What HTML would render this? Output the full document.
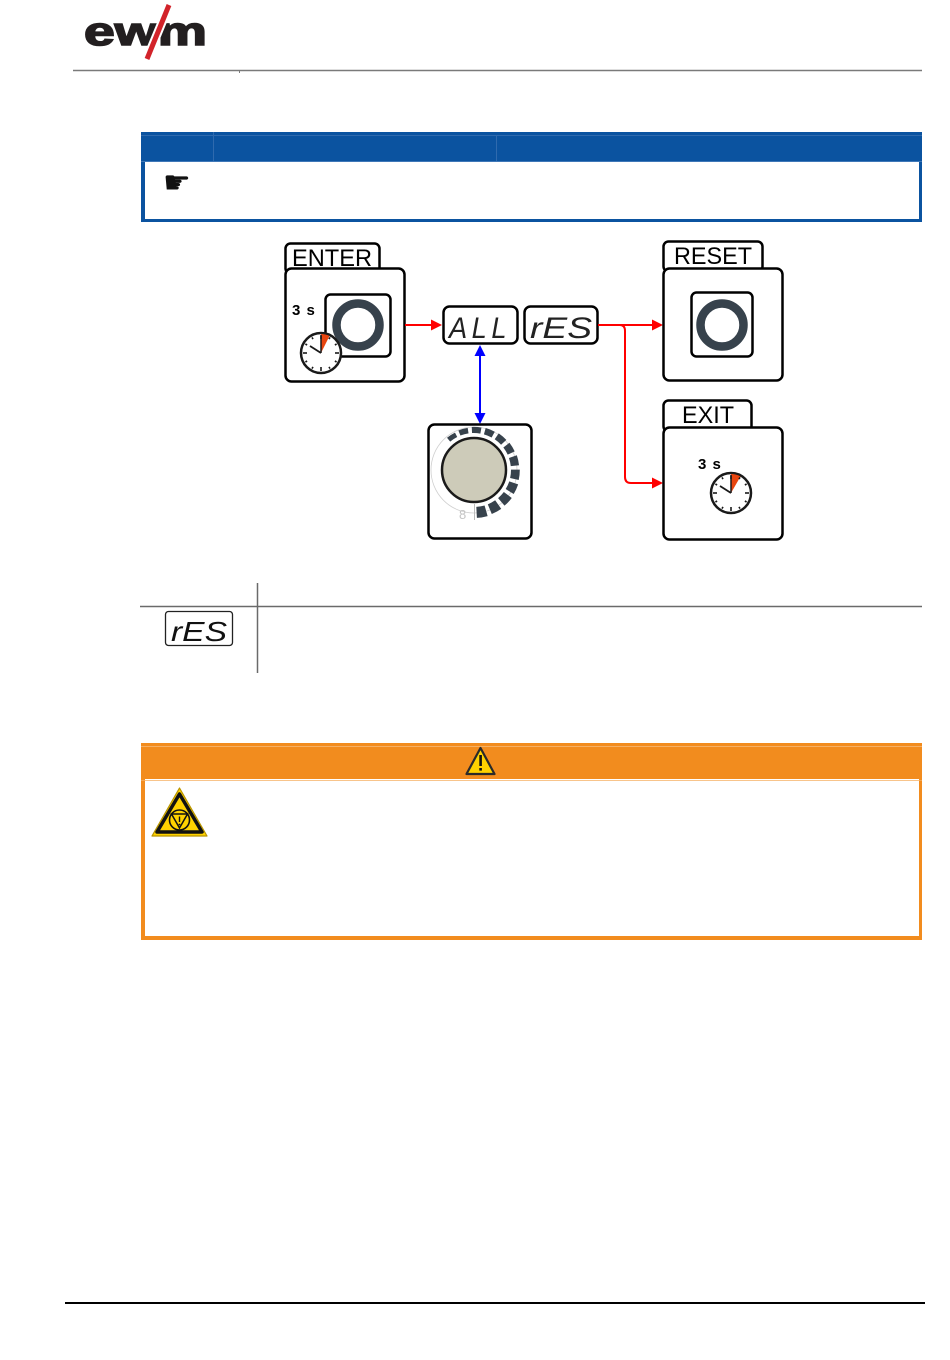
<!DOCTYPE html>
<html>
<head>
<meta charset="utf-8">
<style>
html,body{margin:0;padding:0;background:#fff;}
body{width:950px;height:1360px;overflow:hidden;position:relative;}
svg{position:absolute;left:0;top:0;}
</style>
</head>
<body>
<svg width="950" height="1360" viewBox="0 0 950 1360" xmlns="http://www.w3.org/2000/svg">
  <!-- Logo -->
  <text x="84" y="45" font-family="Liberation Sans, sans-serif" font-weight="bold" font-size="40" fill="#231f20" stroke="#231f20" stroke-width="1.6" textLength="123" lengthAdjust="spacingAndGlyphs">ewm</text>
  <line x1="170" y1="3" x2="146" y2="61" stroke="#fff" stroke-width="9"/>
  <line x1="169" y1="5" x2="147" y2="59" stroke="#d2232a" stroke-width="5"/>
  <!-- header line -->
  <line x1="73" y1="70.5" x2="922" y2="70.5" stroke="#7a7a7a" stroke-width="1.5"/>
  <line x1="239.5" y1="70" x2="239.5" y2="73" stroke="#7a7a7a" stroke-width="1"/>

  <!-- Blue note box -->
  <rect x="141" y="132" width="781" height="90" fill="#0b53a0"/>
  <rect x="145" y="162" width="774" height="57" fill="#fff"/>
  <line x1="141" y1="135.5" x2="922" y2="135.5" stroke="#2f6aae" stroke-width="1"/>
  <line x1="213.5" y1="132" x2="213.5" y2="162" stroke="#2f6aae" stroke-width="1"/>
  <line x1="496.5" y1="135" x2="496.5" y2="162" stroke="#2f6aae" stroke-width="1"/>
  <line x1="141" y1="161.5" x2="922" y2="161.5" stroke="#3f78b8" stroke-width="1"/>
  <text x="163" y="193" font-family="DejaVu Sans, sans-serif" font-size="31" fill="#111">☛</text>

  <!-- ENTER block -->
  <rect x="285.5" y="243.5" width="94" height="30" rx="5" fill="#fff" stroke="#000" stroke-width="2.5"/>
  <text x="292" y="266" font-family="Liberation Sans, sans-serif" font-size="24" fill="#000" textLength="80" lengthAdjust="spacingAndGlyphs">ENTER</text>
  <rect x="285.5" y="268.5" width="119" height="113" rx="6" fill="#fff" stroke="#000" stroke-width="2.5"/>
  <rect x="325.5" y="294.5" width="65" height="62" rx="5" fill="#fff" stroke="#000" stroke-width="2.5"/>
  <circle cx="358" cy="325" r="21.5" fill="none" stroke="#37424c" stroke-width="8.5"/>
  <text x="292" y="315" font-family="Liberation Sans, sans-serif" font-weight="bold" font-size="15" letter-spacing="1" fill="#000">3 s</text>
  <!-- clock ENTER -->
  <circle cx="321" cy="353" r="20" fill="#fff" stroke="#1a1a1a" stroke-width="2.5"/>
  <path d="M321 353 L321 334 A19 19 0 0 1 329.5 336 Z" fill="#e8450f"/>
  <g stroke="#1a1a1a" stroke-width="1.6">
    <line x1="321" y1="335" x2="321" y2="339"/>
    <line x1="321" y1="367" x2="321" y2="371"/>
    <line x1="303" y1="353" x2="307" y2="353"/>
    <line x1="335" y1="353" x2="339" y2="353"/>
    <line x1="330" y1="337.4" x2="329" y2="339.1"/>
    <line x1="336.6" y1="344" x2="334.9" y2="345"/>
    <line x1="336.6" y1="362" x2="334.9" y2="361"/>
    <line x1="330" y1="368.6" x2="329" y2="366.9"/>
    <line x1="312" y1="368.6" x2="313" y2="366.9"/>
    <line x1="305.4" y1="362" x2="307.1" y2="361"/>
    <line x1="305.4" y1="344" x2="307.1" y2="345"/>
    <line x1="312" y1="337.4" x2="313" y2="339.1"/>
    <line x1="321" y1="353" x2="310" y2="346" stroke-width="1.8"/>
    <line x1="321" y1="353" x2="321" y2="336" stroke-width="1.5"/>
  </g>

  <!-- red arrow ENTER -> ALL -->
  <line x1="405" y1="325" x2="433" y2="325" stroke="#ff0000" stroke-width="2"/>
  <path d="M442 325 L431 319.5 L431 330.5 Z" fill="#ff0000"/>

  <!-- ALL display -->
  <rect x="443.5" y="306.5" width="74" height="37" rx="6" fill="#fff" stroke="#000" stroke-width="2.5"/>
  <text x="480" y="338" text-anchor="middle" font-family="Liberation Sans, sans-serif" font-style="italic" font-size="30" fill="#222" letter-spacing="5" textLength="62" lengthAdjust="spacingAndGlyphs">ALL</text>
  <!-- rES display -->
  <rect x="524.5" y="306.5" width="73" height="37" rx="6" fill="#fff" stroke="#000" stroke-width="2.5"/>
  <text x="561" y="338" text-anchor="middle" font-family="Liberation Sans, sans-serif" font-style="italic" font-size="30" fill="#222" textLength="62" lengthAdjust="spacingAndGlyphs">rES</text>

  <!-- red arrows to RESET / EXIT -->
  <line x1="598" y1="325" x2="654" y2="325" stroke="#ff0000" stroke-width="2"/>
  <path d="M663 325 L652 319.5 L652 330.5 Z" fill="#ff0000"/>
  <path d="M620 325 Q625 325 625 331 L625 477 Q625 483 631 483 L654 483" fill="none" stroke="#ff0000" stroke-width="2"/>
  <path d="M663 483 L652 477.5 L652 488.5 Z" fill="#ff0000"/>

  <!-- blue double arrow -->
  <line x1="480" y1="354" x2="480" y2="414" stroke="#0000ff" stroke-width="2"/>
  <path d="M480 345 L474.5 356 L485.5 356 Z" fill="#0000ff"/>
  <path d="M480 424 L474.5 413 L485.5 413 Z" fill="#0000ff"/>

  <!-- RESET block -->
  <rect x="663.5" y="241.5" width="99" height="30" rx="5" fill="#fff" stroke="#000" stroke-width="2.5"/>
  <text x="674" y="264" font-family="Liberation Sans, sans-serif" font-size="24" fill="#000" textLength="78" lengthAdjust="spacingAndGlyphs">RESET</text>
  <rect x="663.5" y="268.5" width="119" height="112" rx="6" fill="#fff" stroke="#000" stroke-width="2.5"/>
  <rect x="691.5" y="292.5" width="61" height="64" rx="5" fill="#fff" stroke="#000" stroke-width="2.5"/>
  <circle cx="722" cy="325" r="21.5" fill="none" stroke="#37424c" stroke-width="8.5"/>

  <!-- EXIT block -->
  <rect x="663.5" y="400.5" width="88" height="31" rx="5" fill="#fff" stroke="#000" stroke-width="2.5"/>
  <text x="682" y="423" font-family="Liberation Sans, sans-serif" font-size="24" fill="#000" textLength="52" lengthAdjust="spacingAndGlyphs">EXIT</text>
  <rect x="663.5" y="427.5" width="119" height="112" rx="6" fill="#fff" stroke="#000" stroke-width="2.5"/>
  <text x="698" y="469" font-family="Liberation Sans, sans-serif" font-weight="bold" font-size="15" letter-spacing="1" fill="#000">3 s</text>
  <!-- clock EXIT -->
  <circle cx="731" cy="493" r="20" fill="#fff" stroke="#1a1a1a" stroke-width="2.5"/>
  <path d="M731 493 L731 474 A19 19 0 0 1 740.5 476.5 Z" fill="#e8450f"/>
  <g stroke="#1a1a1a" stroke-width="1.6">
    <line x1="731" y1="475" x2="731" y2="479"/>
    <line x1="731" y1="507" x2="731" y2="511"/>
    <line x1="713" y1="493" x2="717" y2="493"/>
    <line x1="745" y1="493" x2="749" y2="493"/>
    <line x1="740" y1="477.4" x2="739" y2="479.1"/>
    <line x1="746.6" y1="484" x2="744.9" y2="485"/>
    <line x1="746.6" y1="502" x2="744.9" y2="501"/>
    <line x1="740" y1="508.6" x2="739" y2="506.9"/>
    <line x1="722" y1="508.6" x2="723" y2="506.9"/>
    <line x1="715.4" y1="502" x2="717.1" y2="501"/>
    <line x1="715.4" y1="484" x2="717.1" y2="485"/>
    <line x1="722" y1="477.4" x2="723" y2="479.1"/>
    <line x1="731" y1="493" x2="720" y2="486" stroke-width="1.8"/>
    <line x1="731" y1="493" x2="731" y2="476" stroke-width="1.5"/>
  </g>

  <!-- Knob block -->
  <rect x="428.5" y="424.5" width="103" height="114" rx="6" fill="#fff" stroke="#000" stroke-width="2.5"/>
  <circle cx="474" cy="470" r="43" fill="none" stroke="#d0d0d0" stroke-width="0.8"/>
  <g fill="none" stroke="#37424c" stroke-linecap="butt">
    <path d="M448.6 439.7 A39.5 39.5 0 0 1 456.1 434.8" stroke-width="5"/>
    <path d="M459.4 433.0 A39.8 39.8 0 0 1 468.1 430.6" stroke-width="5.5"/>
    <path d="M471.9 430.0 A40 40 0 0 1 480.9 430.6" stroke-width="6.1"/>
    <path d="M484.8 431.2 A40.3 40.3 0 0 1 493.2 434.6" stroke-width="6.6"/>
    <path d="M496.7 436.3 A40.6 40.6 0 0 1 503.7 442.3" stroke-width="7.2"/>
    <path d="M506.4 445.1 A40.9 40.9 0 0 1 511.2 453.0" stroke-width="7.7"/>
    <path d="M512.9 456.6 A41.1 41.1 0 0 1 514.9 465.7" stroke-width="8.3"/>
    <path d="M515.4 469.6 A41.4 41.4 0 0 1 514.4 479.0" stroke-width="8.8"/>
    <path d="M513.7 482.9 A41.7 41.7 0 0 1 509.7 491.5" stroke-width="9.4"/>
    <path d="M507.8 495.0 A42 42 0 0 1 501.3 501.9" stroke-width="9.9"/>
    <path d="M498.2 504.6 A42.2 42.2 0 0 1 489.8 509.2" stroke-width="10.5"/>
    <path d="M486.1 510.8 A42.5 42.5 0 0 1 476.6 512.4" stroke-width="11"/>
  </g>
  <circle cx="474" cy="470" r="32" fill="#cdcbb9" stroke="#1a1a1a" stroke-width="2.5"/>
  <line x1="474.5" y1="504" x2="474.5" y2="520" stroke="#bbb" stroke-width="1"/>
  <text x="459" y="519" font-family="Liberation Sans, sans-serif" font-size="13" fill="#c4c4c4">8</text>

  <!-- legend table -->
  <line x1="257.5" y1="583" x2="257.5" y2="673" stroke="#6a6a6a" stroke-width="1.5"/>
  <line x1="140" y1="606.5" x2="922" y2="606.5" stroke="#6a6a6a" stroke-width="1.5"/>
  <rect x="165.5" y="611.5" width="67" height="34" rx="3" fill="#fff" stroke="#222" stroke-width="1.3"/>
  <text x="199" y="641" text-anchor="middle" font-family="Liberation Sans, sans-serif" font-style="italic" font-size="28" fill="#111" textLength="56" lengthAdjust="spacingAndGlyphs">rES</text>

  <!-- Orange warning box -->
  <rect x="141" y="743" width="781" height="197" fill="#f28c1e"/>
  <rect x="145" y="779" width="774" height="157" fill="#fff"/>
  <line x1="141" y1="746.5" x2="922" y2="746.5" stroke="#f6b064" stroke-width="1"/>
  <line x1="141" y1="780.5" x2="922" y2="780.5" stroke="#f6b064" stroke-width="0.8"/>
  <!-- small warning triangle in header -->
  <path d="M480.5 748 L494.5 774 L466.5 774 Z" fill="#ffd200" stroke="#2a2a2a" stroke-width="2.2" stroke-linejoin="round"/>
  <rect x="479.3" y="755" width="2.6" height="11" fill="#111"/>
  <rect x="479.3" y="768" width="2.6" height="2.6" fill="#111"/>
  <!-- big hazard sign -->
  <path d="M179.5 788 L207 836 L152 836 Z" fill="#ffd200" stroke="#b89400" stroke-width="1.2" stroke-linejoin="round"/>
  <path d="M179.5 794 L202 832 L157 832 Z" fill="none" stroke="#111" stroke-width="3.5" stroke-linejoin="round"/>
  <circle cx="179.5" cy="820" r="10" fill="none" stroke="#111" stroke-width="1.6"/>
  <path d="M171.5 814 L187.5 814 L179.5 828 Z" fill="none" stroke="#111" stroke-width="1.5"/>
  <line x1="179.5" y1="816.5" x2="179.5" y2="822" stroke="#111" stroke-width="1.4"/>
  <circle cx="179.5" cy="824.5" r="0.9" fill="#111"/>

  <!-- footer line -->
  <line x1="65" y1="1303" x2="925" y2="1303" stroke="#000" stroke-width="2"/>
</svg>
</body>
</html>
